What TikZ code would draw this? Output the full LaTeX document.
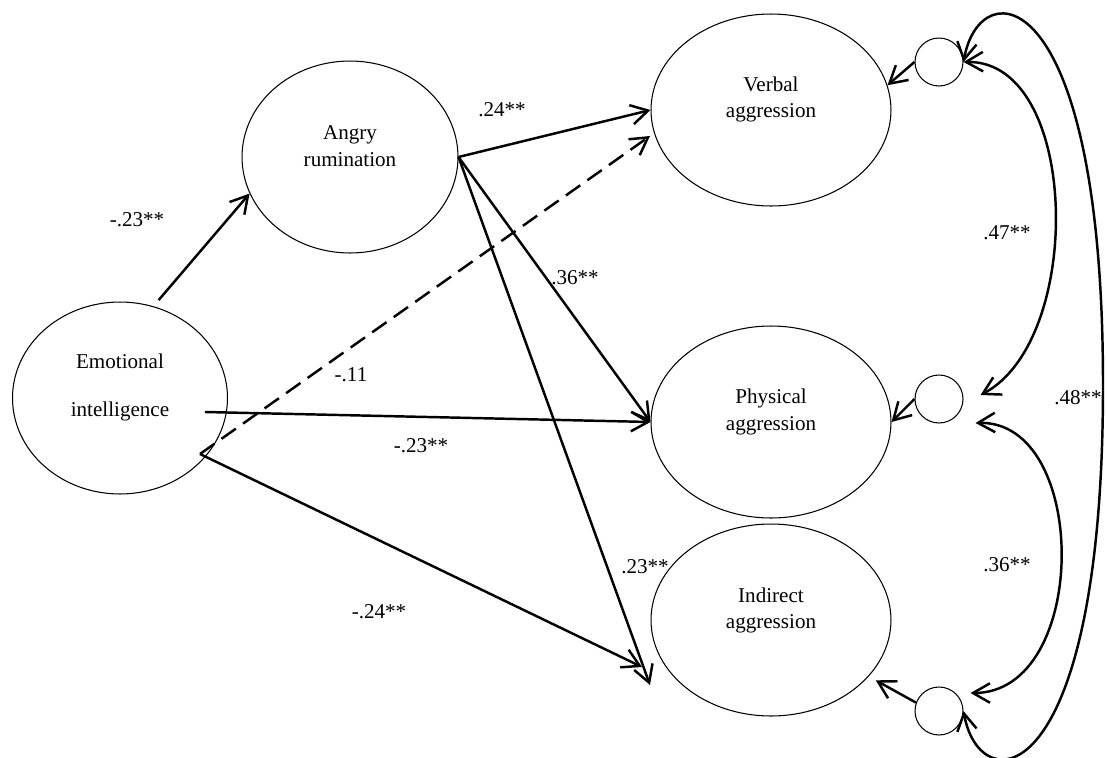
\documentclass[tikz,border=0pt]{standalone}
\usepackage{fontspec}
\setmainfont{Liberation Serif}
\usetikzlibrary{arrows.meta,shapes.geometric}
\begin{document}
\begin{tikzpicture}[x=0.02cm,y=-0.02cm,
  latent/.style={draw, ellipse, line width=0.6pt, inner sep=0pt, minimum height=3.84cm},
  err/.style={draw, circle, line width=0.6pt, inner sep=0pt, minimum size=0.96cm},
  lbl/.style={font=\fontsize{12pt}{15.3pt}\selectfont, inner sep=0pt, align=center},
  pathar/.style={line width=1.4pt, -{Straight Barb[length=3.4mm,width=3.9mm]}},
  covar/.style={line width=1.4pt, {Straight Barb[length=3.4mm,width=3.9mm]}-{Straight Barb[length=3.4mm,width=3.9mm]}},
  dashar/.style={pathar, dash pattern=on 10pt off 5pt}
]
\useasboundingbox (0,0) rectangle (1107,758);

% latent variables
\node[latent, minimum width=4.3cm]  (ei) at (120,398) {};
\node[latent, minimum width=4.32cm] (ar) at (350,157) {};
\node[latent, minimum width=4.8cm]  (va) at (771,110) {};
\node[latent, minimum width=4.8cm]  (pa) at (771,422) {};
\node[latent, minimum width=4.8cm]  (ia) at (771,620) {};

% error terms
\node[err] (e1) at (939,62) {};
\node[err] (e2) at (939,399) {};
\node[err] (e3) at (939,711) {};

% texts
\node[lbl] (tei) at (120,387.5) {Emotional\\[12.5pt]intelligence};
\node[lbl] (tar) at (350,146.5) {Angry\\rumination};
\node[lbl] (tva) at (771,99.5) {Verbal\\aggression};
\node[lbl] (tpa) at (771,412) {Physical\\aggression};
\node[lbl] (tia) at (771,610.5) {Indirect\\aggression};

% coefficients
\node[lbl] (l1) at (137,220) {-.23**};
\node[lbl] (l2) at (502,110) {.24**};
\node[lbl] (l3) at (575,278) {.36**};
\node[lbl] (l4) at (351,375) {-.11};
\node[lbl] (l5) at (421,446) {-.23**};
\node[lbl] (l6) at (379,612) {-.24**};
\node[lbl] (l7) at (645,567) {.23**};
\node[lbl] (l8) at (1007,233) {.47**};
\node[lbl] (l9) at (1078,398) {.48**};
\node[lbl] (l10) at (1007,565) {.36**};

% structural paths
\draw[pathar, shorten <=0.16cm] (ei.70) -- (ar.200);
\draw[pathar] ([shift={(85,14)}]ei.center) -- (pa.west);
\draw[dashar] ([shift={(80,56)}]ei.center) -- ([shift={(-121,26)}]va.center);
\draw[pathar] ([shift={(80,56)}]ei.center) -- ([shift={(-129,47)}]ia.center);
\draw[pathar] (ar.east) -- (va.west);
\draw[pathar] (ar.east) -- (pa.west);
\draw[pathar] (ar.east) -- ([shift={(-121,65)}]ia.center);

% error paths
\draw[pathar] (e1.west) -- (va.12);
\draw[pathar] (e2.west) -- (pa.east);
\draw[pathar, shorten >=0.16cm] (e3.160) -- (ia.-30);

% covariances
\coordinate (r48) at (1103,385);
\draw[covar] (e1.east) .. controls (1080,60) and (1085,340) .. ([shift={(17,-4)}]e2.east);
\draw[covar] (e1.east) .. controls (980,-30) and (1103,-20) .. (r48) .. controls (1103,793) and (980,803) .. (e3.east);
\draw[covar] ([shift={(12,24)}]e2.east) .. controls (1090,420) and (1090,693) .. ([shift={(7,-18)}]e3.east);
\end{tikzpicture}
\end{document}
